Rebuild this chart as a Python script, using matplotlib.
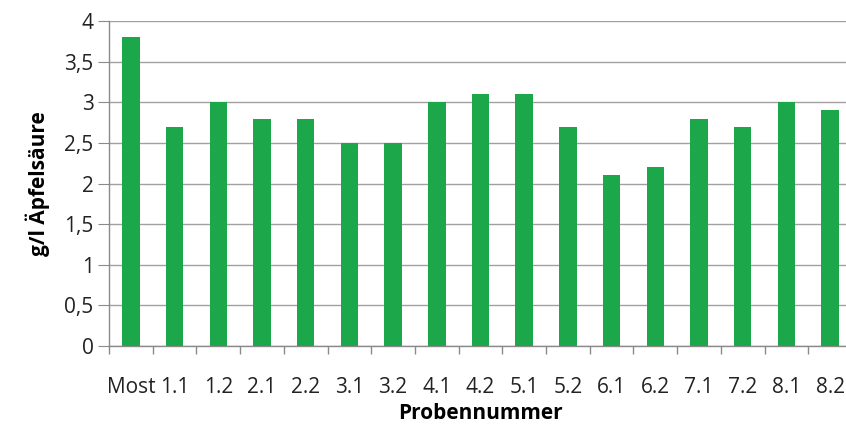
import matplotlib
matplotlib.use("Agg")
import matplotlib.pyplot as plt
from matplotlib.ticker import FixedLocator, FuncFormatter
import numpy as np

proben = ["Most", "1.1", "1.2", "2.1", "2.2", "3.1", "3.2", "4.1", "4.2",
          "5.1", "5.2", "6.1", "6.2", "7.1", "7.2", "8.1", "8.2"]
aepfelsaeure = [3.8, 2.7, 3.0, 2.8, 2.8, 2.5, 2.5, 3.0, 3.1,
                3.1, 2.7, 2.1, 2.2, 2.8, 2.7, 3.0, 2.9]

plt.rcParams['font.family'] = ['Open Sans', 'DejaVu Sans']

fig = plt.figure(figsize=(8.46, 4.28), dpi=100)
# plot area runs a bit past the right edge, like in the original
ax = fig.add_axes([109/846, 1-346/428, 743/846, (346-21)/428])

x = np.arange(len(proben))
ax.bar(x, aepfelsaeure, width=0.4, color="#1ca84a", zorder=3)

ax.set_xlim(-0.5, len(proben)-0.5)
ax.set_ylim(0, 4)
ax.set_yticks(np.arange(0, 4.01, 0.5))
ax.yaxis.set_major_formatter(FuncFormatter(lambda v, p: f"{v:g}".replace(".", ",")))
ax.grid(axis="y", color="#a0a0a0", linewidth=1, zorder=0)

ax.set_xticks(x)
ax.set_xticklabels(proben)
ax.xaxis.set_minor_locator(FixedLocator(np.arange(-0.5, len(proben), 1)))
ax.tick_params(axis="x", which="major", length=0, pad=22, labelsize=15, colors="#222222")
ax.tick_params(axis="x", which="minor", length=6, color="#8a8a8a", width=1)
ax.tick_params(axis="y", length=8, pad=3, labelsize=15, color="#8a8a8a", labelcolor="#222222")

for s in ["top", "right"]:
    ax.spines[s].set_visible(False)
for s in ["left", "bottom"]:
    ax.spines[s].set_color("#8a8a8a")
    ax.spines[s].set_linewidth(1)

ax.set_ylabel("g/l Äpfelsäure", fontsize=15, fontweight="bold", labelpad=10)
ax.set_xlabel("Probennummer", fontsize=15, fontweight="bold", labelpad=4)

fig.savefig("out.png", dpi=100)
